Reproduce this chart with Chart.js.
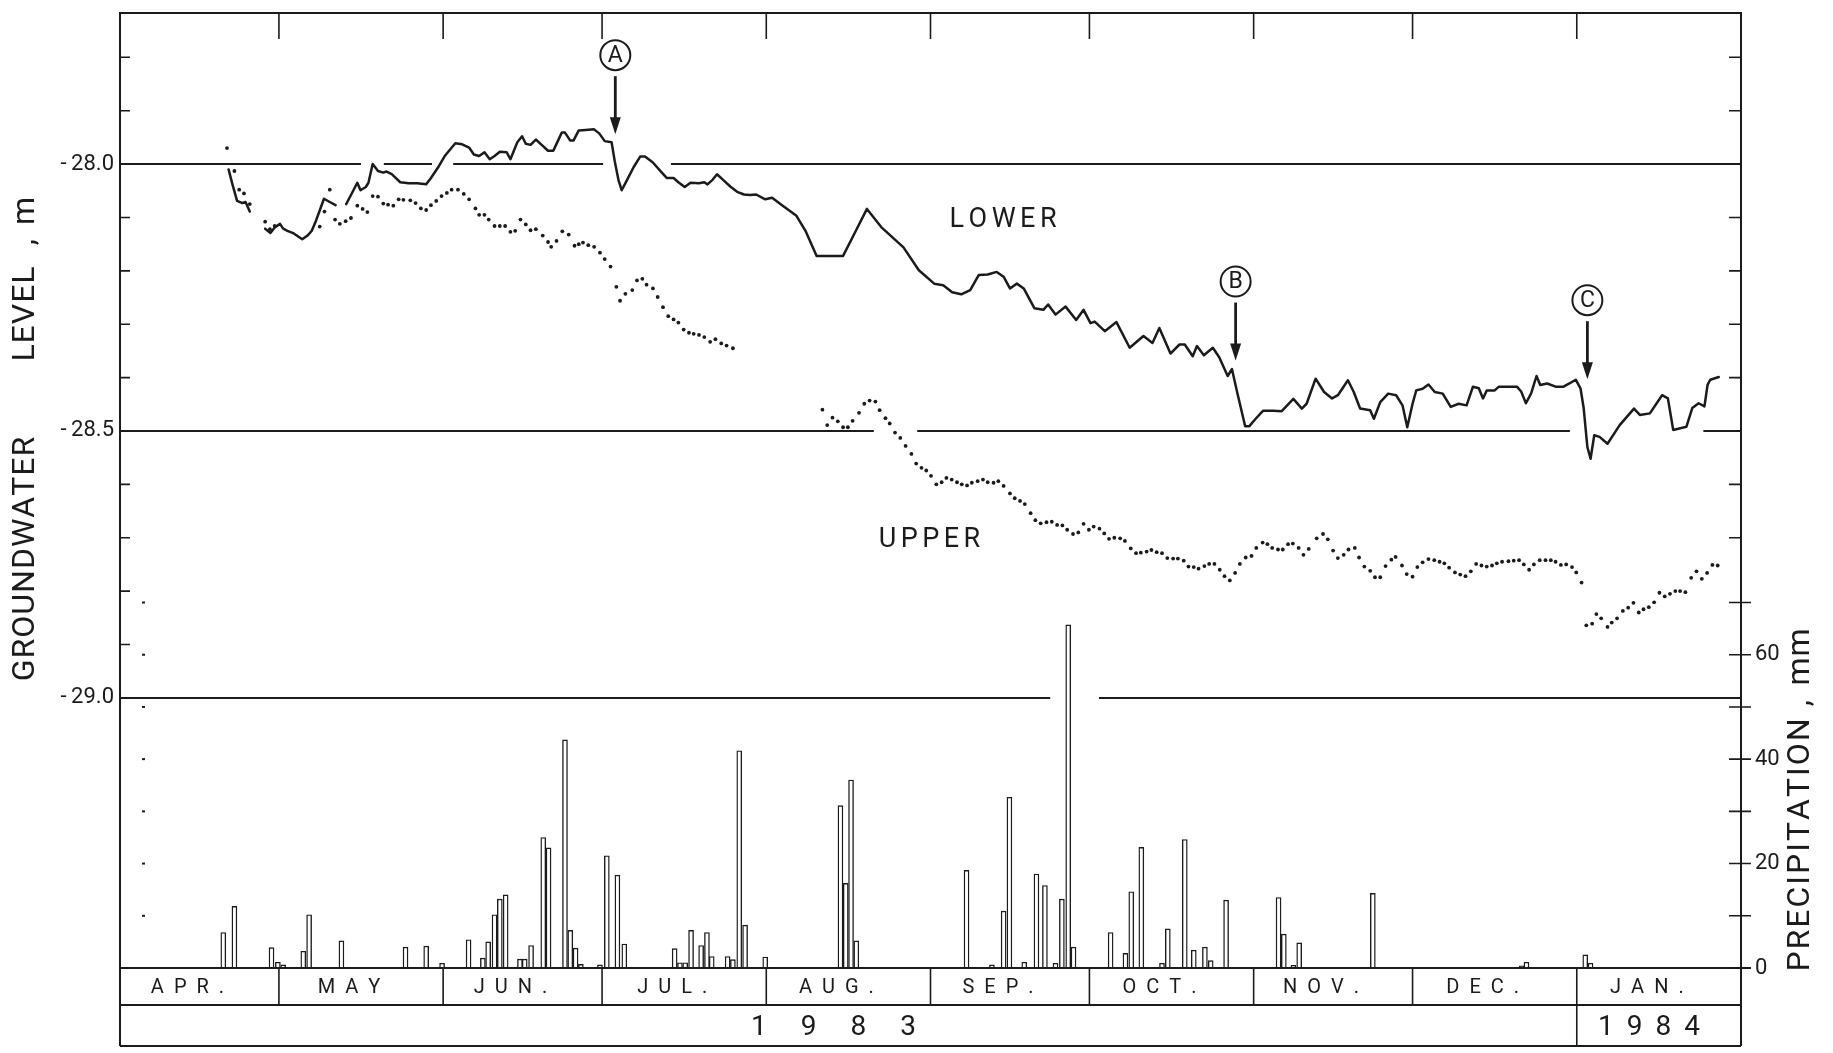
<!DOCTYPE html>
<html>
<head>
<meta charset="utf-8">
<script src="https://cdn.jsdelivr.net/npm/chart.js@4.4.1/dist/chart.umd.min.js"></script>
<style>
html,body{margin:0;padding:0;background:#ffffff;}
canvas{display:block;}
</style>
</head>
<body>
<canvas id="c" width="1833" height="1053"></canvas>
<script>
// ---------------- DATA (x = days since 1 April 1983) ----------------
const monthNames  = ['APR.','MAY','JUN.','JUL.','AUG.','SEP.','OCT.','NOV.','DEC.','JAN.'];
const monthStarts = [0,30,61,91,122,153,183,214,244,275,306];
const yearNames   = ['1983','1984'];
const yearStarts  = [0,275,306];

const levelLabels  = [-28.0,-28.5,-29.0];
const levelMinor   = [-27.8,-27.9,-28.1,-28.2,-28.3,-28.4,-28.6,-28.7,-28.8,-28.9];
const levelMinorRight = [-27.8,-27.9,-28.1,-28.2,-28.3,-28.4,-28.6,-28.7];
const precipLabels = [0,20,40,60];
const precipTicks  = [0,10,20,30,40,50,60,70];
const refLevels    = [-28.0,-28.5,-29.0];

// LOWER aquifer (solid line), m
const lowerDays = [
 20.5,21.2,22.1,23.1,23.7,24.5,26.0,27.4,28.4,29.2,
 30.2,30.8,31.6,32.8,34.4,35.4,36.2,37.0,37.7,38.5,
 39.6,40.7,41.7,42.7,43.6,44.8,45.4,46.4,46.9,47.7,
 48.7,49.7,50.3,51.3,52.9,54.5,56.1,57.8,58.7,60.0,
 61.3,63.3,64.6,65.9,66.8,67.8,68.8,69.8,70.7,71.7,
 73.0,73.7,75.0,75.9,76.6,77.5,78.5,79.6,80.8,81.8,
 82.6,83.4,84.0,85.0,85.6,86.6,87.9,89.5,90.5,91.5,
 92.8,93.4,94.1,94.7,95.7,97.0,98.2,99.1,100.6,102.2,
 103.2,104.5,105.4,106.6,107.7,109.3,110.3,110.9,111.9,112.7,
 113.9,115.2,116.5,117.8,118.9,120.1,121.8,123.1,125.1,127.7,
 129.4,131.5,136.5,138.6,141.0,143.7,147.9,150.8,153.7,155.4,
 157.1,158.8,160.5,162.1,163.8,165.5,166.8,168.0,169.3,170.6,
 172.6,174.3,175.2,176.6,178.5,180.5,181.9,183.2,184.0,185.9,
 188.1,190.6,193.2,194.9,196.2,198.3,200.0,201.0,202.5,203.3,
 204.6,206.3,207.5,209.1,209.9,210.9,212.4,213.2,214.3,215.8,
 217.7,219.3,221.5,223.1,224.0,225.7,227.3,228.8,229.9,231.8,
 232.9,234.1,236.0,236.7,237.9,239.4,240.9,242.1,243.0,244.0,
 244.7,245.9,247.0,248.2,249.7,251.2,252.7,254.2,255.4,256.5,
 257.3,258.0,259.5,260.3,263.7,264.5,265.4,266.4,267.4,268.1,
 269.4,271.0,272.5,273.6,274.8,275.7,276.3,277.0,277.6,278.3,
 279.3,280.8,283.1,285.8,286.9,288.8,291.1,292.2,293.2,295.7,
 296.8,298.0,299.1,299.7,300.2,301.8
];
const lowerLevels = [
 -28.010,-28.037,-28.069,-28.073,-28.071,-28.089,null,-28.121,-28.129,-28.119,
 -28.112,-28.121,-28.125,-28.130,-28.141,-28.134,-28.125,-28.106,-28.087,-28.065,
 -28.071,-28.077,null,-28.075,-28.058,-28.035,-28.049,-28.043,-28.035,-28.000,
 -28.013,-28.016,-28.014,-28.019,-28.034,-28.036,-28.036,-28.038,-28.026,-28.007,
 -27.985,-27.961,-27.963,-27.969,-27.982,-27.985,-27.978,-27.991,-27.985,-27.977,
 -27.978,-27.991,-27.959,-27.948,-27.962,-27.964,-27.954,-27.964,-27.975,-27.975,
 -27.958,-27.941,-27.941,-27.956,-27.956,-27.937,-27.936,-27.935,-27.943,-27.957,
 -27.959,-27.995,-28.030,-28.049,-28.030,-28.005,-27.986,-27.986,-27.997,-28.015,
 -28.026,-28.026,-28.034,-28.043,-28.035,-28.036,-28.034,-28.038,-28.029,-28.019,
 -28.030,-28.042,-28.052,-28.057,-28.058,-28.057,-28.066,-28.063,-28.078,-28.097,
 -28.125,-28.172,-28.172,-28.131,-28.084,-28.118,-28.156,-28.199,-28.224,-28.227,
 -28.240,-28.244,-28.236,-28.208,-28.207,-28.202,-28.211,-28.233,-28.224,-28.233,
 -28.270,-28.273,-28.263,-28.282,-28.267,-28.292,-28.273,-28.298,-28.295,-28.313,
 -28.296,-28.344,-28.322,-28.335,-28.307,-28.355,-28.338,-28.338,-28.360,-28.341,
 -28.358,-28.344,-28.362,-28.397,-28.384,-28.428,-28.491,-28.491,-28.478,-28.462,
 -28.462,-28.463,-28.440,-28.458,-28.449,-28.402,-28.427,-28.439,-28.433,-28.405,
 -28.427,-28.458,-28.461,-28.477,-28.446,-28.430,-28.433,-28.452,-28.493,-28.449,
 -28.424,-28.421,-28.413,-28.427,-28.430,-28.455,-28.449,-28.452,-28.417,-28.420,
 -28.439,-28.424,-28.424,-28.417,-28.417,-28.426,-28.448,-28.429,-28.397,-28.414,
 -28.411,-28.417,-28.417,-28.411,-28.404,-28.420,-28.457,-28.530,-28.552,-28.508,
 -28.511,-28.524,-28.489,-28.458,-28.470,-28.467,-28.433,-28.439,-28.498,-28.492,
 -28.457,-28.448,-28.454,-28.413,-28.404,-28.399
];

// UPPER aquifer (dotted, daily readings), m
const upperDays = [
 20.2,21.6,22.5,23.4,24.5,27.4,28.3,29.2,37.7,38.6,
 39.6,40.6,41.5,42.6,43.6,44.8,45.8,46.7,47.7,48.7,
 49.7,50.6,51.6,52.6,53.5,54.8,55.8,56.8,57.8,58.7,
 59.7,60.7,61.7,62.6,63.8,64.9,65.9,67.1,67.8,68.8,
 69.6,70.7,71.7,72.7,73.7,74.6,75.6,76.6,77.5,78.5,
 79.8,80.8,81.4,82.4,83.5,84.7,85.8,86.6,87.4,88.4,
 89.5,90.6,91.5,92.6,93.7,94.4,95.4,96.7,97.6,98.6,
 99.4,100.6,101.5,102.5,103.5,104.5,105.4,106.4,107.4,108.3,
 109.3,110.3,111.4,112.4,113.5,114.5,115.7,
 132.6,133.5,134.5,135.5,136.5,137.4,138.3,139.5,140.5,141.5,
 142.6,143.4,144.5,145.3,146.3,147.3,148.3,149.4,150.3,151.3,
 152.2,153.1,154.1,155.1,156.0,157.0,158.0,158.9,159.9,160.8,
 161.9,162.9,163.8,164.9,165.8,166.8,168.0,168.9,169.9,170.8,
 171.9,172.8,173.8,174.9,175.9,176.9,177.9,178.8,179.9,180.9,
 181.9,182.9,183.8,184.9,185.8,186.7,187.7,188.8,189.7,190.8,
 191.8,192.7,193.8,194.7,195.7,196.7,197.7,198.8,199.7,200.8,
 201.7,202.7,203.6,204.7,205.6,206.6,207.6,208.5,209.5,210.5,
 211.4,212.5,213.6,214.5,215.7,216.6,217.5,218.6,219.5,220.5,
 221.4,222.5,223.4,224.4,
 225.9,227.1,228.0,229.0,229.9,231.0,231.9,233.1,233.9,234.9,
 236.0,236.9,237.9,238.9,240.0,240.8,242.0,242.9,244.0,244.9,
 245.9,247.0,248.1,249.1,250.0,250.9,252.0,253.0,254.0,255.0,
 256.0,257.0,258.0,259.0,259.9,260.9,262.1,263.1,264.1,265.0,
 266.0,266.9,268.0,269.1,270.1,271.0,272.0,273.0,274.1,274.9,
 275.9,
 276.8,277.9,278.7,279.6,280.8,281.6,282.6,283.7,284.7,285.7,
 286.7,287.6,288.6,289.6,290.6,291.6,292.6,293.6,294.5,295.5,
 296.6,297.6,298.6,299.6,300.6,301.6
];
const upperLevels = [
 -27.970,-28.013,-28.048,-28.055,-28.075,-28.108,-28.122,-28.116,-28.117,-28.089,
 -28.048,-28.104,-28.112,-28.107,-28.101,-28.078,-28.084,-28.090,-28.060,-28.061,
 -28.074,-28.076,-28.078,-28.066,-28.067,-28.068,-28.073,-28.083,-28.086,-28.077,
 -28.069,-28.060,-28.054,-28.048,-28.048,-28.056,-28.066,-28.083,-28.095,-28.095,
 -28.104,-28.116,-28.116,-28.116,-28.127,-28.125,-28.104,-28.113,-28.124,-28.122,
 -28.134,-28.146,-28.155,-28.144,-28.126,-28.132,-28.153,-28.150,-28.147,-28.152,
 -28.155,-28.166,-28.178,-28.192,-28.230,-28.256,-28.243,-28.236,-28.218,-28.215,
 -28.226,-28.233,-28.249,-28.268,-28.285,-28.291,-28.297,-28.310,-28.316,-28.318,
 -28.320,-28.324,-28.333,-28.328,-28.336,-28.340,-28.345,
 -28.460,-28.489,-28.475,-28.482,-28.493,-28.493,-28.481,-28.466,-28.449,-28.443,
 -28.445,-28.461,-28.476,-28.486,-28.503,-28.513,-28.528,-28.543,-28.561,-28.569,
 -28.574,-28.584,-28.600,-28.596,-28.588,-28.591,-28.596,-28.600,-28.602,-28.597,
 -28.594,-28.591,-28.596,-28.597,-28.594,-28.603,-28.617,-28.626,-28.631,-28.637,
 -28.654,-28.667,-28.673,-28.671,-28.670,-28.676,-28.677,-28.685,-28.693,-28.690,
 -28.674,-28.685,-28.679,-28.683,-28.692,-28.702,-28.700,-28.701,-28.706,-28.720,
 -28.729,-28.728,-28.726,-28.723,-28.727,-28.729,-28.738,-28.739,-28.739,-28.743,
 -28.754,-28.755,-28.758,-28.753,-28.749,-28.749,-28.760,-28.772,-28.780,-28.766,
 -28.749,-28.737,-28.734,-28.719,-28.709,-28.712,-28.719,-28.722,-28.722,-28.712,
 -28.711,-28.719,-28.732,-28.721,
 -28.701,-28.693,-28.703,-28.724,-28.738,-28.732,-28.722,-28.719,-28.737,-28.754,
 -28.762,-28.774,-28.774,-28.753,-28.741,-28.736,-28.752,-28.768,-28.773,-28.755,
 -28.746,-28.740,-28.742,-28.745,-28.748,-28.756,-28.765,-28.769,-28.772,-28.763,
 -28.749,-28.752,-28.754,-28.752,-28.748,-28.745,-28.744,-28.743,-28.742,-28.750,
 -28.760,-28.750,-28.742,-28.742,-28.742,-28.745,-28.751,-28.750,-28.755,-28.765,
 -28.784,
 -28.864,-28.861,-28.843,-28.851,-28.867,-28.859,-28.851,-28.837,-28.831,-28.822,
 -28.840,-28.834,-28.830,-28.821,-28.803,-28.810,-28.805,-28.800,-28.800,-28.802,
 -28.775,-28.763,-28.777,-28.766,-28.751,-28.752
];

// Daily precipitation, mm
const rainDays = [
 19.5,21.6,28.6,29.8,30.8,34.6,35.7,41.8,53.9,57.8,
 60.8,65.8,68.5,69.5,70.7,71.7,72.8,75.5,76.4,77.6,
 79.9,80.9,84.0,85.0,86.0,87.0,90.6,91.9,93.9,95.2,
 104.7,105.7,106.7,107.8,109.7,110.8,111.7,114.7,115.7,116.9,
 118.0,121.8,136.0,137.0,138.0,139.0,159.8,164.6,166.8,167.9,
 170.7,173.0,174.6,176.6,177.8,179.0,180.0,187.0,189.8,190.9,
 192.8,196.7,197.8,201.0,202.7,204.8,205.9,208.8,218.7,219.7,
 221.5,222.6,236.5,264.6,265.5,276.6,277.6
];
const rainMM = [
 6.8,11.8,3.9,1.1,0.6,3.2,10.2,5.2,4.0,4.2,
 0.9,5.4,1.9,5.0,10.2,13.2,14.0,1.7,1.7,4.3,
 25.0,23.0,43.7,7.2,3.8,0.7,0.6,21.5,17.8,4.6,
 3.7,1.0,1.0,7.2,4.3,6.8,2.2,2.2,1.6,41.6,
 8.2,2.1,31.1,16.2,36.0,5.2,18.7,0.6,10.9,32.7,
 1.1,18.0,15.8,0.9,13.2,65.7,4.0,6.8,2.8,14.6,
 23.1,0.9,7.5,24.6,3.4,4.0,1.4,13.0,13.5,6.5,
 0.5,4.8,14.3,0.4,1.1,2.5,0.9
];

// Marked events (arrow tips), and curve labels
const eventNames  = ['A','B','C'];
const eventDays   = [93.5,210.6,277.0];
const eventLevels = [-27.944,-28.368,-28.403];
const curveNames  = ['LOWER','UPPER'];
const curveDays   = [166.7,152.8];
const curveLevels = [-28.105,-28.704];

// breaks drawn in the reference lines (days)
const refGaps = [
  [[45.5,49.8],[58.9,62.9],[91.2,104.0]],
  [[142.3,150.5],[273.7,298.9]],
  [[175.6,184.8]]
];

// ---------------- RENDER ----------------
const INK = '#1b1b1b';
const FONT = 'Roboto, "DejaVu Sans", sans-serif';
const BAND1 = 37, BAND2 = 78;

function drawSpaced(ctx, text, cx, cy, spacing) {
  const chars = [...text];
  const w = chars.map(ch => ctx.measureText(ch).width);
  const total = w.reduce((a, b) => a + b, 0) + spacing * (chars.length - 1);
  let x = cx - total / 2;
  ctx.textAlign = 'left';
  ctx.textBaseline = 'middle';
  chars.forEach((ch, i) => { ctx.fillText(ch, x, cy); x += w[i] + spacing; });
}
function drawRotated(ctx, text, cx, cy, spacing) {
  ctx.save();
  ctx.translate(cx, cy);
  ctx.rotate(-Math.PI / 2);
  drawSpaced(ctx, text, 0, 0, spacing);
  ctx.restore();
}

const framePlugin = {
  id: 'frame',
  beforeDatasetsDraw(chart) {
    const { ctx, chartArea: a, scales } = chart;
    const x = scales.x, yL = scales.yL;
    ctx.save();
    ctx.strokeStyle = INK;
    ctx.lineWidth = 2;
    refLevels.forEach((lv, i) => {
      const y = yL.getPixelForValue(lv);
      ctx.beginPath();
      let start = a.left;
      refGaps[i].forEach(([g0, g1]) => {
        ctx.moveTo(start, y); ctx.lineTo(x.getPixelForValue(g0), y);
        start = x.getPixelForValue(g1);
      });
      ctx.moveTo(start, y); ctx.lineTo(a.right, y);
      ctx.stroke();
    });
    ctx.restore();
  },
  afterDatasetsDraw(chart) {
    const { ctx, chartArea: a, scales } = chart;
    const x = scales.x, yL = scales.yL, yP = scales.yP;
    const bottom = a.bottom + BAND2;
    ctx.save();
    ctx.strokeStyle = INK;
    ctx.fillStyle = INK;
    ctx.lineWidth = 2;

    // outer frame
    ctx.beginPath();
    ctx.moveTo(a.left, bottom); ctx.lineTo(a.left, a.top); ctx.lineTo(a.right, a.top); ctx.lineTo(a.right, bottom);
    ctx.moveTo(a.left, a.bottom); ctx.lineTo(a.right + 10, a.bottom);
    ctx.moveTo(a.left, a.bottom + BAND1); ctx.lineTo(a.right, a.bottom + BAND1);
    ctx.moveTo(a.left, bottom); ctx.lineTo(a.right, bottom);
    ctx.stroke();

    // month ticks on top edge and month cells
    ctx.lineWidth = 1.6;
    ctx.beginPath();
    monthStarts.slice(1, -1).forEach(d => {
      const px = x.getPixelForValue(d);
      ctx.moveTo(px, a.top); ctx.lineTo(px, a.top + 26);
      ctx.moveTo(px, a.bottom); ctx.lineTo(px, a.bottom + BAND1);
    });
    yearStarts.slice(1, -1).forEach(d => {
      const px = x.getPixelForValue(d);
      ctx.moveTo(px, a.bottom + BAND1); ctx.lineTo(px, bottom);
    });
    // level minor ticks (inward, left and right)
    levelMinor.forEach(v => {
      const py = yL.getPixelForValue(v);
      ctx.moveTo(a.left, py); ctx.lineTo(a.left + 10, py);
    });
    levelMinorRight.forEach(v => {
      const py = yL.getPixelForValue(v);
      ctx.moveTo(a.right - 12, py); ctx.lineTo(a.right, py);
    });
    // precipitation ticks (crossing the right axis)
    precipTicks.forEach(p => {
      const py = yP.getPixelForValue(p);
      ctx.moveTo(a.right - 12, py); ctx.lineTo(a.right + 10, py);
    });
    ctx.stroke();
    // small precipitation marks near left edge
    precipTicks.slice(1).forEach(p => {
      const py = yP.getPixelForValue(p);
      ctx.fillRect(a.left + 22, py - 1, 3, 2);
    });

    // month & year labels
    ctx.font = '20px ' + FONT;
    monthNames.forEach((m, i) => {
      const cx = (x.getPixelForValue(monthStarts[i]) + x.getPixelForValue(monthStarts[i + 1])) / 2 - 12;
      drawSpaced(ctx, m, cx, a.bottom + BAND1 / 2 + 1, 10);
    });
    ctx.font = '28px ' + FONT;
    const yearSpacing = [34, 13];
    const yearShift = [-15, -10];
    yearNames.forEach((yName, i) => {
      const cx = (x.getPixelForValue(yearStarts[i]) + x.getPixelForValue(yearStarts[i + 1])) / 2 + yearShift[i];
      drawSpaced(ctx, yName, cx, a.bottom + (BAND1 + BAND2) / 2 + 2, yearSpacing[i]);
    });

    // axis titles
    ctx.font = '32px ' + FONT;
    drawRotated(ctx, 'GROUNDWATER', 26, 559, 1);
    drawRotated(ctx, 'LEVEL', 26, 314, 1);
    drawRotated(ctx, ',', 26, 242, 0);
    drawRotated(ctx, 'm', 26, 211, 0);
    drawRotated(ctx, 'PRECIPITATION', 1801, 845, 2);
    drawRotated(ctx, ',', 1801, 703, 0);
    drawRotated(ctx, 'mm', 1801, 657, 1);

    // curve labels
    ctx.font = '27px ' + FONT;
    curveNames.forEach((n, i) => {
      drawSpaced(ctx, n, x.getPixelForValue(curveDays[i]), yL.getPixelForValue(curveLevels[i]), 4.5);
    });

    // event markers
    eventNames.forEach((n, i) => {
      const px = x.getPixelForValue(eventDays[i]);
      const tip = yL.getPixelForValue(eventLevels[i]);
      ctx.lineWidth = 2.8;
      ctx.beginPath();
      ctx.moveTo(px, tip - 58); ctx.lineTo(px, tip - 12);
      ctx.stroke();
      ctx.beginPath();
      ctx.moveTo(px - 5.5, tip - 17); ctx.lineTo(px + 5.5, tip - 17); ctx.lineTo(px, tip);
      ctx.closePath(); ctx.fill();
      ctx.lineWidth = 2;
      ctx.beginPath();
      ctx.arc(px, tip - 79, 15, 0, Math.PI * 2);
      ctx.stroke();
      ctx.font = '23px ' + FONT;
      ctx.textAlign = 'center'; ctx.textBaseline = 'middle';
      ctx.fillText(n, px, tip - 78);
    });
    ctx.restore();
  }
};

const lowerPoints = lowerDays.map((d, i) => ({ x: d, y: lowerLevels[i] }));
const upperPoints = upperDays.map((d, i) => ({ x: d, y: upperLevels[i] }));
const rainPoints  = rainDays.map((d, i) => ({ x: d, y: rainMM[i] }));

function noPad(s) { s.paddingTop = 0; s.paddingBottom = 0; }

new Chart(document.getElementById('c'), {
  type: 'line',
  data: {
    datasets: [
      { type: 'bar', label: 'Precipitation', data: rainPoints, yAxisID: 'yP',
        backgroundColor: '#ffffff', borderColor: INK, borderWidth: 1.4,
        barThickness: 5, borderSkipped: 'start', order: 3 },
      { type: 'line', label: 'Lower', data: lowerPoints, yAxisID: 'yL',
        borderColor: INK, borderWidth: 2.5, pointRadius: 0, tension: 0,
        spanGaps: false, borderJoinStyle: 'round', borderCapStyle: 'round', order: 2 },
      { type: 'line', label: 'Upper', data: upperPoints, yAxisID: 'yL',
        showLine: false, pointRadius: 1.9, pointBackgroundColor: INK,
        pointBorderWidth: 0, order: 1 }
    ]
  },
  options: {
    responsive: false,
    animation: false,
    events: [],
    layout: { padding: { top: 13, bottom: 85, left: 0, right: 0 } },
    scales: {
      x: { type: 'linear', min: 0, max: 306, display: false, offset: false,
           grid: { offset: false } },
      yL: {
        type: 'linear', position: 'left', min: -29.506, max: -27.717,
        afterFit(s) { s.width = 120; noPad(s); },
        afterBuildTicks(s) { s.ticks = levelLabels.map(v => ({ value: v })); },
        grid: { display: false, drawTicks: false }, border: { display: false },
        ticks: { color: INK, font: { family: FONT, size: 22 }, padding: 6,
                 callback: v => '-\u2009' + Math.abs(v).toFixed(1) }
      },
      yP: {
        type: 'linear', position: 'right', min: 0, max: 182.9,
        afterFit(s) { s.width = 92; noPad(s); },
        afterBuildTicks(s) { s.ticks = precipLabels.map(v => ({ value: v })); },
        grid: { display: false, drawTicks: false }, border: { display: false },
        ticks: { color: INK, font: { family: FONT, size: 22 }, padding: 14,
                 callback: v => String(v) }
      }
    },
    plugins: { legend: { display: false }, tooltip: { enabled: false } }
  },
  plugins: [framePlugin]
});
</script>
</body>
</html>
